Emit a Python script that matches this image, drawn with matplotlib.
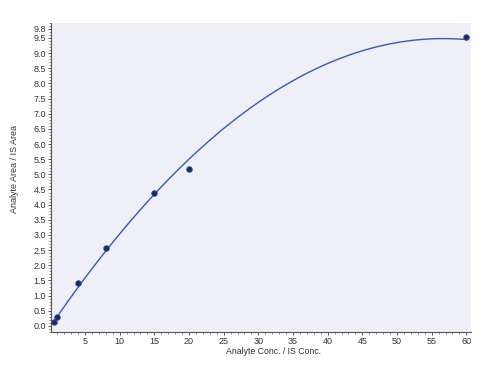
import numpy as np
import matplotlib
matplotlib.use("Agg")
import matplotlib.pyplot as plt
from matplotlib.ticker import MultipleLocator

plt.rcParams["font.family"] = ["Liberation Sans", "DejaVu Sans"]

# calibration points
conc_ratio = [0.5, 1.0, 4.0, 8.0, 15.0, 20.0, 60.0]
area_ratio = [0.14, 0.29, 1.41, 2.56, 4.40, 5.17, 9.52]

y_ticks = [0.0, 0.5, 1.0, 1.5, 2.0, 2.5, 3.0, 3.5, 4.0, 4.5, 5.0,
           5.5, 6.0, 6.5, 7.0, 7.5, 8.0, 8.5, 9.0, 9.5, 9.8]
x_ticks = [5, 10, 15, 20, 25, 30, 35, 40, 45, 50, 55, 60]

# quadratic calibration fit, 1/x weighting
x = np.array(conc_ratio)
coef = np.polyfit(x, area_ratio, 2, w=1 / np.sqrt(x))
xs = np.linspace(x.min(), x.max(), 300)
ys = np.polyval(coef, xs)

fig = plt.figure(figsize=(5.0, 3.79), dpi=100)
ax = fig.add_axes([0.102, 0.124, 0.839, 0.816])
ax.set_facecolor("#eff0f7")

ax.plot(xs, ys, color="#3a5aa8", lw=1.0, zorder=2)
ax.scatter(conc_ratio, area_ratio, s=16, color="#1c2a5c", edgecolor="#2d4a9a",
           linewidth=0.6, zorder=3)

ax.set_xlim(0.1, 60.6)
ax.set_ylim(-0.2, 10.0)
ax.set_xticks(x_ticks)
ax.set_yticks(y_ticks)
ax.set_yticklabels([f"{v:.1f}" for v in y_ticks])
ax.xaxis.set_minor_locator(MultipleLocator(1))
ax.yaxis.set_minor_locator(MultipleLocator(0.1))

for s in ["top", "right"]:
    ax.spines[s].set_visible(False)
for s in ["left", "bottom"]:
    ax.spines[s].set_color("#555555")
    ax.spines[s].set_linewidth(0.8)

ax.tick_params(which="major", length=2.5, width=0.7, color="#555555",
               labelsize=6.5, labelcolor="#333333", pad=1)
ax.tick_params(which="minor", length=1.5, width=0.5, color="#555555")

ax.set_xlabel("Analyte Conc. / IS Conc.", fontsize=6.3, color="#333333")
ax.set_ylabel("Analyte Area / IS Area", fontsize=6.5, color="#333333")
ax.xaxis.set_label_coords(0.53, -0.064)
ax.xaxis.label.set_va("center")
ax.yaxis.set_label_coords(-0.086, 0.527)
ax.yaxis.label.set_va("center")

fig.savefig("out.png", dpi=100)
